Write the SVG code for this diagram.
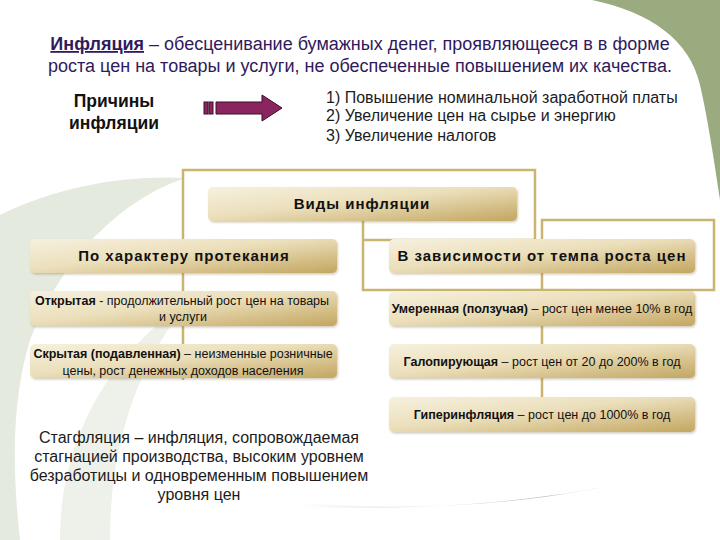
<svg xmlns="http://www.w3.org/2000/svg" width="720" height="540" viewBox="0 0 720 540">
<defs>
<linearGradient id="gold" x1="0" y1="0" x2="1" y2="1">
<stop offset="0" stop-color="#f6f0de"/>
<stop offset="0.45" stop-color="#ebdfbb"/>
<stop offset="1" stop-color="#c3a660"/>
</linearGradient>
<linearGradient id="swoosh" x1="300" y1="0" x2="660" y2="0" gradientUnits="userSpaceOnUse">
<stop offset="0" stop-color="#b4bca8" stop-opacity="0"/>
<stop offset="0.7" stop-color="#a9b29c" stop-opacity="0.9"/>
<stop offset="1" stop-color="#b4bca8" stop-opacity="0"/>
</linearGradient>
<filter id="sh" x="-5%" y="-20%" width="110%" height="160%">
<feDropShadow dx="1" dy="1.5" stdDeviation="1" flood-color="#7a6a40" flood-opacity="0.35"/>
</filter>
</defs>
<style>
.box{fill:url(#gold);filter:url(#sh)}
.conn{fill:none;stroke:#c9b570;stroke-width:2.5}
.t{font-family:"Liberation Sans",Arial,sans-serif}
.title{font-size:18px;fill:#301a5c;text-anchor:middle}
.big{font-size:15px;font-weight:bold;fill:#111;text-anchor:middle;letter-spacing:1px}
.small{font-size:12.5px;fill:#111;text-anchor:middle}
.b{font-weight:bold}
.cause{font-size:16px;fill:#1c1c1c}
.stag{font-size:16px;fill:#1c1c1c;text-anchor:middle}
</style>
<rect width="720" height="540" fill="#ffffff"/>
<g id="background">
<path d="M592,0 C650,12 690,40 700,85 C708,120 714,160 720,200 L720,0 Z" fill="#9aab7f"/>
<path d="M0,215 C60,185 130,175 185,178 C120,200 60,260 30,340 C15,390 10,450 20,540 L0,540 Z" fill="#e5eadf"/>
<path d="M60,540 C60,450 100,360 190,300 C140,360 110,440 110,540 Z" fill="#eef1ea"/>
<path d="M300,503 C420,512 540,505 650,476 C560,500 440,511 300,507 Z" fill="url(#swoosh)"/>
</g>
<g id="title" class="t">
<text class="title" x="360" y="50"><tspan class="b" text-decoration="underline">Инфляция</tspan> – обесценивание бумажных денег, проявляющееся в в форме</text>
<text class="title" x="360" y="72">роста цен на товары и услуги, не обеспеченные повышением их качества.</text>
</g>
<g id="causes-label" class="t">
<text x="114" y="107" font-size="17.5" font-weight="bold" fill="#111" text-anchor="middle">Причины</text>
<text x="114" y="129" font-size="17.5" font-weight="bold" fill="#111" text-anchor="middle">инфляции</text>
</g>
<g id="causes-arrow" fill="#8b2560" stroke="#3d0f2a" stroke-width="1">
<rect x="204" y="102" width="4" height="12"/>
<rect x="209" y="102" width="4" height="12"/>
<path d="M216,102 L262,102 L262,95 L282,108 L262,121 L262,114 L216,114 Z"/>
</g>
<g id="causes-list" class="t cause">
<text x="326" y="103">1) Повышение номинальной заработной платы</text>
<text x="326" y="121">2) Увеличение цен на сырье и энергию</text>
<text x="326" y="141">3) Увеличение налогов</text>
</g>
<g id="connectors">
<path class="conn" d="M183,380 L183,170 L535,170 L535,240 L363,240"/>
<path class="conn" d="M363,220 L363,290 L714,290 L714,220 L542,220 L542,432"/>
</g>
<g id="node-types">
<rect class="box" x="208" y="187" width="309" height="34" rx="5"/>
<text class="t big" x="362" y="209">Виды инфляции</text>
</g>
<g id="node-course">
<rect class="box" x="30" y="239" width="307" height="34" rx="5"/>
<text class="t big" x="184" y="261">По характеру протекания</text>
</g>
<g id="node-rate">
<rect class="box" x="389" y="239" width="306" height="34" rx="5"/>
<text class="t big" x="542" y="261">В зависимости от темпа роста цен</text>
</g>
<g id="node-open">
<rect class="box" x="30" y="291" width="307" height="35" rx="5"/>
<text class="t small" x="182" y="305"><tspan class="b">Открытая</tspan> - продолжительный рост цен на товары</text>
<text class="t small" x="183" y="321">и услуги</text>
</g>
<g id="node-hidden">
<rect class="box" x="30" y="344" width="307" height="34" rx="5"/>
<text class="t small" x="183" y="358"><tspan class="b">Скрытая (подавленная)</tspan> – неизменные розничные</text>
<text class="t small" x="183" y="375">цены, рост денежных доходов населения</text>
</g>
<g id="node-moderate">
<rect class="box" x="389" y="291" width="306" height="35" rx="5"/>
<text class="t small" x="542" y="313"><tspan class="b">Умеренная (ползучая)</tspan> – рост цен менее 10% в год</text>
</g>
<g id="node-galloping">
<rect class="box" x="389" y="344" width="306" height="34" rx="5"/>
<text class="t small" x="542" y="366"><tspan class="b">Галопирующая</tspan> – рост цен от 20 до 200% в год</text>
</g>
<g id="node-hyper">
<rect class="box" x="389" y="397" width="306" height="35" rx="5"/>
<text class="t small" x="542" y="419"><tspan class="b">Гиперинфляция</tspan> – рост цен до 1000% в год</text>
</g>
<g id="stagflation" class="t stag">
<text x="199" y="443">Стагфляция – инфляция, сопровождаемая</text>
<text x="199" y="462">стагнацией производства, высоким уровнем</text>
<text x="199" y="481">безработицы и одновременным повышением</text>
<text x="199" y="500">уровня цен</text>
</g>
</svg>
